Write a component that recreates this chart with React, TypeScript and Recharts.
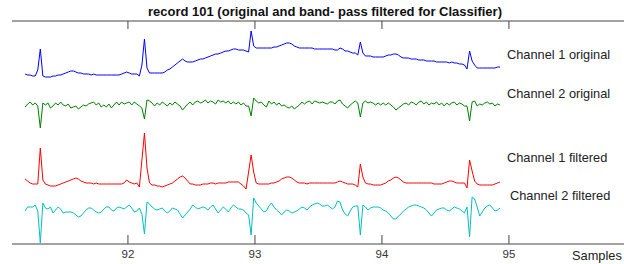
import React from "react";
import { LineChart, Line, XAxis, YAxis } from "recharts";

// samples every 0.02 units starting at 91.19 (188 samples per channel)
const T_START = 91.19;
const T_STEP = 0.02;

const X_TICKS = [92, 93, 94, 95];

const ch1Original = [
  17.0, 16.9, 16.9, 16.8, 16.8, 17.4, 19.5, 16.8, 16.7, 16.7,
  16.7, 16.8, 16.8, 16.9, 16.9, 17.0, 17.1, 17.2, 17.3, 17.3,
  17.2, 17.1, 17.1, 17.0, 17.0, 17.0, 16.9, 17.0, 16.9, 16.9,
  16.9, 16.9, 16.9, 16.9, 16.9, 16.9, 16.9, 16.9, 17.0, 17.1,
  17.2, 17.1, 17.0, 17.0, 17.0, 16.8, 17.9, 20.5, 17.6, 17.1,
  17.1, 17.1, 17.1, 17.1, 17.1, 17.2, 17.4, 17.5, 17.7, 17.9,
  18.1, 18.3, 18.5, 18.3, 18.2, 18.2, 18.2, 18.3, 18.4, 18.5,
  18.5, 18.6, 18.7, 18.8, 18.9, 19.0, 19.0, 19.1, 19.2, 19.3,
  19.3, 19.4, 19.5, 19.5, 19.4, 19.4, 19.4, 19.3, 19.2, 21.3,
  19.8, 19.6, 19.6, 19.6, 19.6, 19.6, 19.6, 19.6, 19.7, 19.7,
  19.8, 19.9, 20.0, 20.1, 20.1, 20.0, 19.8, 19.7, 19.6, 19.6,
  19.6, 19.6, 19.6, 19.6, 19.5, 19.5, 19.5, 19.5, 19.5, 19.5,
  19.5, 19.5, 19.4, 19.4, 19.6, 19.5, 19.3, 19.3, 19.2, 19.1,
  19.1, 18.9, 20.2, 19.1, 18.8, 18.8, 18.8, 18.7, 18.7, 18.7,
  18.7, 18.7, 18.8, 18.9, 18.9, 19.0, 19.0, 18.9, 18.7, 18.6,
  18.6, 18.6, 18.5, 18.5, 18.5, 18.4, 18.4, 18.4, 18.3, 18.3,
  18.3, 18.3, 18.2, 18.2, 18.2, 18.2, 18.2, 18.1, 18.2, 18.1,
  18.1, 18.0, 18.0, 17.9, 17.5, 19.3, 18.3, 17.9, 17.6, 17.6,
  17.6, 17.6, 17.6, 17.6, 17.6, 17.6, 17.7, 17.7,
];

const ch2Original = [
  13.7, 14.0, 14.2, 13.9, 14.1, 13.8, 11.6, 14.1, 13.9, 14.1,
  13.6, 13.8, 14.1, 13.9, 14.2, 13.9, 13.8, 14.0, 13.6, 13.7,
  13.8, 13.5, 13.7, 13.9, 13.8, 14.0, 14.1, 14.2, 13.9, 14.1,
  13.7, 13.9, 13.7, 14.0, 13.6, 13.9, 14.2, 13.9, 14.2, 14.0,
  14.1, 14.2, 13.9, 14.2, 14.0, 13.8, 13.6, 12.5, 14.4, 14.3,
  14.1, 13.8, 14.1, 13.9, 14.2, 14.0, 13.8, 14.1, 13.9, 14.2,
  14.0, 13.8, 13.4, 13.7, 14.0, 14.2, 13.9, 14.2, 14.3, 14.1,
  14.2, 14.4, 14.1, 14.3, 14.2, 14.0, 14.4, 14.2, 14.3, 14.1,
  14.3, 14.0, 14.2, 14.0, 14.2, 13.9, 14.1, 13.8, 13.8, 12.8,
  14.6, 14.3, 14.1, 14.2, 13.9, 13.7, 14.3, 14.0, 14.2, 13.9,
  14.1, 13.8, 13.9, 13.7, 13.6, 13.8, 13.5, 13.7, 13.9, 14.2,
  14.0, 14.2, 14.3, 14.0, 14.3, 14.2, 14.1, 14.2, 14.1, 14.0,
  14.2, 14.2, 14.0, 14.3, 14.4, 14.0, 13.8, 13.6, 13.9, 14.1,
  14.3, 14.1, 12.7, 14.1, 14.3, 14.1, 14.2, 14.1, 13.9, 14.1,
  13.9, 14.1, 13.9, 14.1, 13.9, 13.7, 13.4, 13.6, 13.8, 14.0,
  14.1, 13.9, 14.2, 14.1, 13.9, 14.2, 14.3, 14.0, 14.2, 13.9,
  14.1, 14.0, 14.2, 13.9, 14.1, 13.8, 14.1, 13.9, 14.1, 14.2,
  13.9, 14.1, 14.0, 13.8, 13.8, 12.3, 14.2, 14.3, 13.8, 14.0,
  13.9, 14.1, 14.2, 14.0, 14.1, 13.8, 14.0, 13.9,
];

const ch1Filtered = [
  6.5, 6.3, 6.1, 6.0, 6.0, 6.0, 9.6, 6.4, 6.0, 5.9,
  5.8, 5.8, 5.8, 5.9, 6.0, 6.1, 6.2, 6.3, 6.4, 6.5,
  6.6, 6.5, 6.3, 6.2, 6.1, 6.1, 6.1, 6.0, 6.1, 6.0,
  6.0, 6.0, 6.0, 6.0, 6.0, 6.0, 6.0, 6.0, 6.0, 6.1,
  6.4, 6.2, 6.1, 6.0, 6.1, 5.7, 8.4, 11.1, 7.6, 6.1,
  5.9, 5.9, 5.8, 5.8, 5.7, 5.8, 5.9, 6.0, 6.1, 6.3,
  6.5, 6.7, 6.8, 6.6, 6.3, 6.0, 6.0, 5.9, 5.9, 5.9,
  6.0, 6.0, 6.0, 6.1, 6.1, 6.0, 6.1, 6.1, 6.1, 6.1,
  6.2, 6.2, 6.2, 6.2, 6.2, 6.0, 5.8, 5.5, 7.2, 8.9,
  7.2, 6.1, 6.0, 6.0, 6.0, 6.0, 6.0, 6.1, 6.1, 6.2,
  6.3, 6.5, 6.6, 6.7, 6.7, 6.6, 6.4, 6.2, 6.1, 6.1,
  6.1, 6.0, 6.1, 6.1, 6.1, 6.1, 6.1, 6.1, 6.1, 6.1,
  6.1, 6.1, 6.1, 6.2, 6.3, 6.2, 6.1, 6.0, 6.0, 6.0,
  5.9, 5.7, 8.0, 6.7, 6.1, 6.0, 6.0, 5.9, 5.9, 5.9,
  5.9, 6.0, 6.1, 6.3, 6.4, 6.6, 6.7, 6.6, 6.4, 6.2,
  6.1, 6.1, 6.1, 6.1, 6.1, 6.1, 6.1, 6.1, 6.1, 6.1,
  6.1, 6.0, 6.0, 6.0, 6.0, 6.1, 6.2, 6.3, 6.3, 6.2,
  6.1, 6.1, 6.1, 6.1, 5.6, 8.4, 7.3, 6.3, 6.0, 5.9,
  5.9, 5.9, 5.9, 5.9, 5.9, 6.0, 6.1, 6.2,
];

const ch2Filtered = [
  3.3, 3.7, 3.7, 3.7, 3.9, 3.3, 0.1, 4.1, 3.6, 3.5,
  3.7, 3.1, 3.4, 3.7, 3.5, 3.1, 3.2, 3.2, 3.2, 3.1,
  2.9, 2.7, 2.8, 3.1, 3.4, 3.6, 3.6, 3.4, 3.2, 3.1,
  3.2, 3.5, 3.7, 3.7, 3.4, 3.3, 3.6, 3.7, 3.6, 3.5,
  3.7, 3.9, 3.6, 3.2, 3.3, 3.6, 3.0, 1.0, 4.2, 4.0,
  3.7, 3.5, 3.4, 3.5, 3.6, 3.3, 3.1, 3.3, 3.6, 3.5,
  3.4, 3.0, 2.6, 2.9, 3.2, 3.5, 3.9, 3.7, 3.5, 3.6,
  3.7, 3.6, 3.4, 3.7, 3.9, 3.5, 3.1, 3.4, 3.7, 3.5,
  3.2, 3.6, 3.9, 3.7, 3.5, 3.5, 3.4, 3.1, 2.9, 0.9,
  4.6, 4.1, 3.8, 3.5, 3.2, 3.3, 3.8, 4.1, 3.7, 3.4,
  3.2, 2.9, 3.2, 3.4, 3.3, 3.1, 3.2, 3.3, 3.5, 3.7,
  3.6, 3.4, 3.7, 3.9, 4.0, 4.1, 4.0, 3.8, 3.8, 3.9,
  3.7, 3.5, 3.7, 4.3, 4.2, 3.4, 3.0, 2.8, 3.3, 3.7,
  3.8, 3.8, 0.9, 3.9, 3.7, 3.4, 3.6, 3.7, 3.7, 3.7,
  3.6, 3.4, 3.3, 3.1, 2.8, 2.5, 2.5, 2.8, 3.0, 3.3,
  3.5, 3.7, 3.8, 3.9, 3.9, 3.8, 3.7, 3.6, 3.4, 3.1,
  2.8, 3.1, 3.4, 3.5, 3.6, 3.6, 3.4, 3.3, 3.5, 3.7,
  3.6, 3.5, 3.3, 3.1, 3.7, 0.7, 4.7, 4.5, 3.7, 2.8,
  3.2, 3.6, 3.8, 3.9, 3.6, 3.3, 3.4, 3.6,
];

const SERIES = [
  { key: "ch1o", label: "Channel 1 original", color: "#0000ff" },
  { key: "ch2o", label: "Channel 2 original", color: "#008000" },
  { key: "ch1f", label: "Channel 1 filtered", color: "#ff0000" },
  { key: "ch2f", label: "Channel 2 filtered", color: "#00bfbf" },
];

const AXIS = "#444";
const FONT = "Arial, 'Liberation Sans', sans-serif";

const data = ch1Original.map((v, i) => ({
  t: +(T_START + i * T_STEP).toFixed(2),
  ch1o: v,
  ch2o: ch2Original[i],
  ch1f: ch1Filtered[i],
  ch2f: ch2Filtered[i],
}));

function BottomTick({ x, y, payload }: any) {
  return (
    <g>
      <line x1={x} x2={x} y1={y} y2={y - 9} stroke={AXIS} />
      <text x={x} y={y + 14} textAnchor="middle" fontSize={11.5} fill="#333" fontFamily={FONT}>
        {payload.value}
      </text>
    </g>
  );
}

function TopTick({ x, y }: any) {
  return <line x1={x} x2={x} y1={y} y2={y + 8} stroke={AXIS} />;
}

export default function App() {
  return (
    <div style={{ position: "absolute", left: 0, top: 0, width: 624, height: 264, background: "#fff" }}>
      <LineChart width={624} height={264} data={data} margin={{ top: 20, right: 0, bottom: 0, left: 12 }}>
        <XAxis
          xAxisId="bottom"
          dataKey="t"
          type="number"
          domain={[91.087, 95.906]}
          ticks={X_TICKS}
          interval={0}
          allowDataOverflow
          height={20}
          tickSize={0}
          tickMargin={0}
          tickLine={false}
          axisLine={{ stroke: AXIS }}
          tick={BottomTick}
        />
        <XAxis
          xAxisId="top"
          orientation="top"
          dataKey="t"
          type="number"
          domain={[91.087, 95.906]}
          ticks={X_TICKS}
          interval={0}
          allowDataOverflow
          height={1}
          tickSize={0}
          tickMargin={0}
          tickLine={false}
          axisLine={{ stroke: AXIS }}
          tick={TopTick}
        />
        <YAxis
          type="number"
          domain={[0, 22.3]}
          allowDataOverflow
          width={0}
          tick={false}
          tickLine={false}
          axisLine={{ stroke: AXIS }}
        />
        {SERIES.map((s) => (
          <Line
            key={s.key}
            xAxisId="bottom"
            dataKey={s.key}
            type="linear"
            stroke={s.color}
            strokeWidth={1}
            dot={false}
            activeDot={false}
            isAnimationActive={false}
          />
        ))}
      </LineChart>
      <svg
        width={624}
        height={264}
        style={{ position: "absolute", left: 0, top: 0, pointerEvents: "none" }}
        fontFamily={FONT}
      >
        <text x={325} y={15.5} textAnchor="middle" fontSize={13} fontWeight="bold" fill="#111">
          record 101 (original and band- pass filtered for Classifier)
        </text>
        <text x={507} y={59} fontSize={12.8} fill="#222">{SERIES[0].label}</text>
        <text x={507} y={98} fontSize={12.8} fill="#222">{SERIES[1].label}</text>
        <text x={507} y={161.5} fontSize={12.8} fill="#222">{SERIES[2].label}</text>
        <text x={510} y={200} fontSize={12.8} fill="#222">{SERIES[3].label}</text>
        <text x={572} y={260} fontSize={12.8} fill="#222">Samples</text>
      </svg>
    </div>
  );
}
